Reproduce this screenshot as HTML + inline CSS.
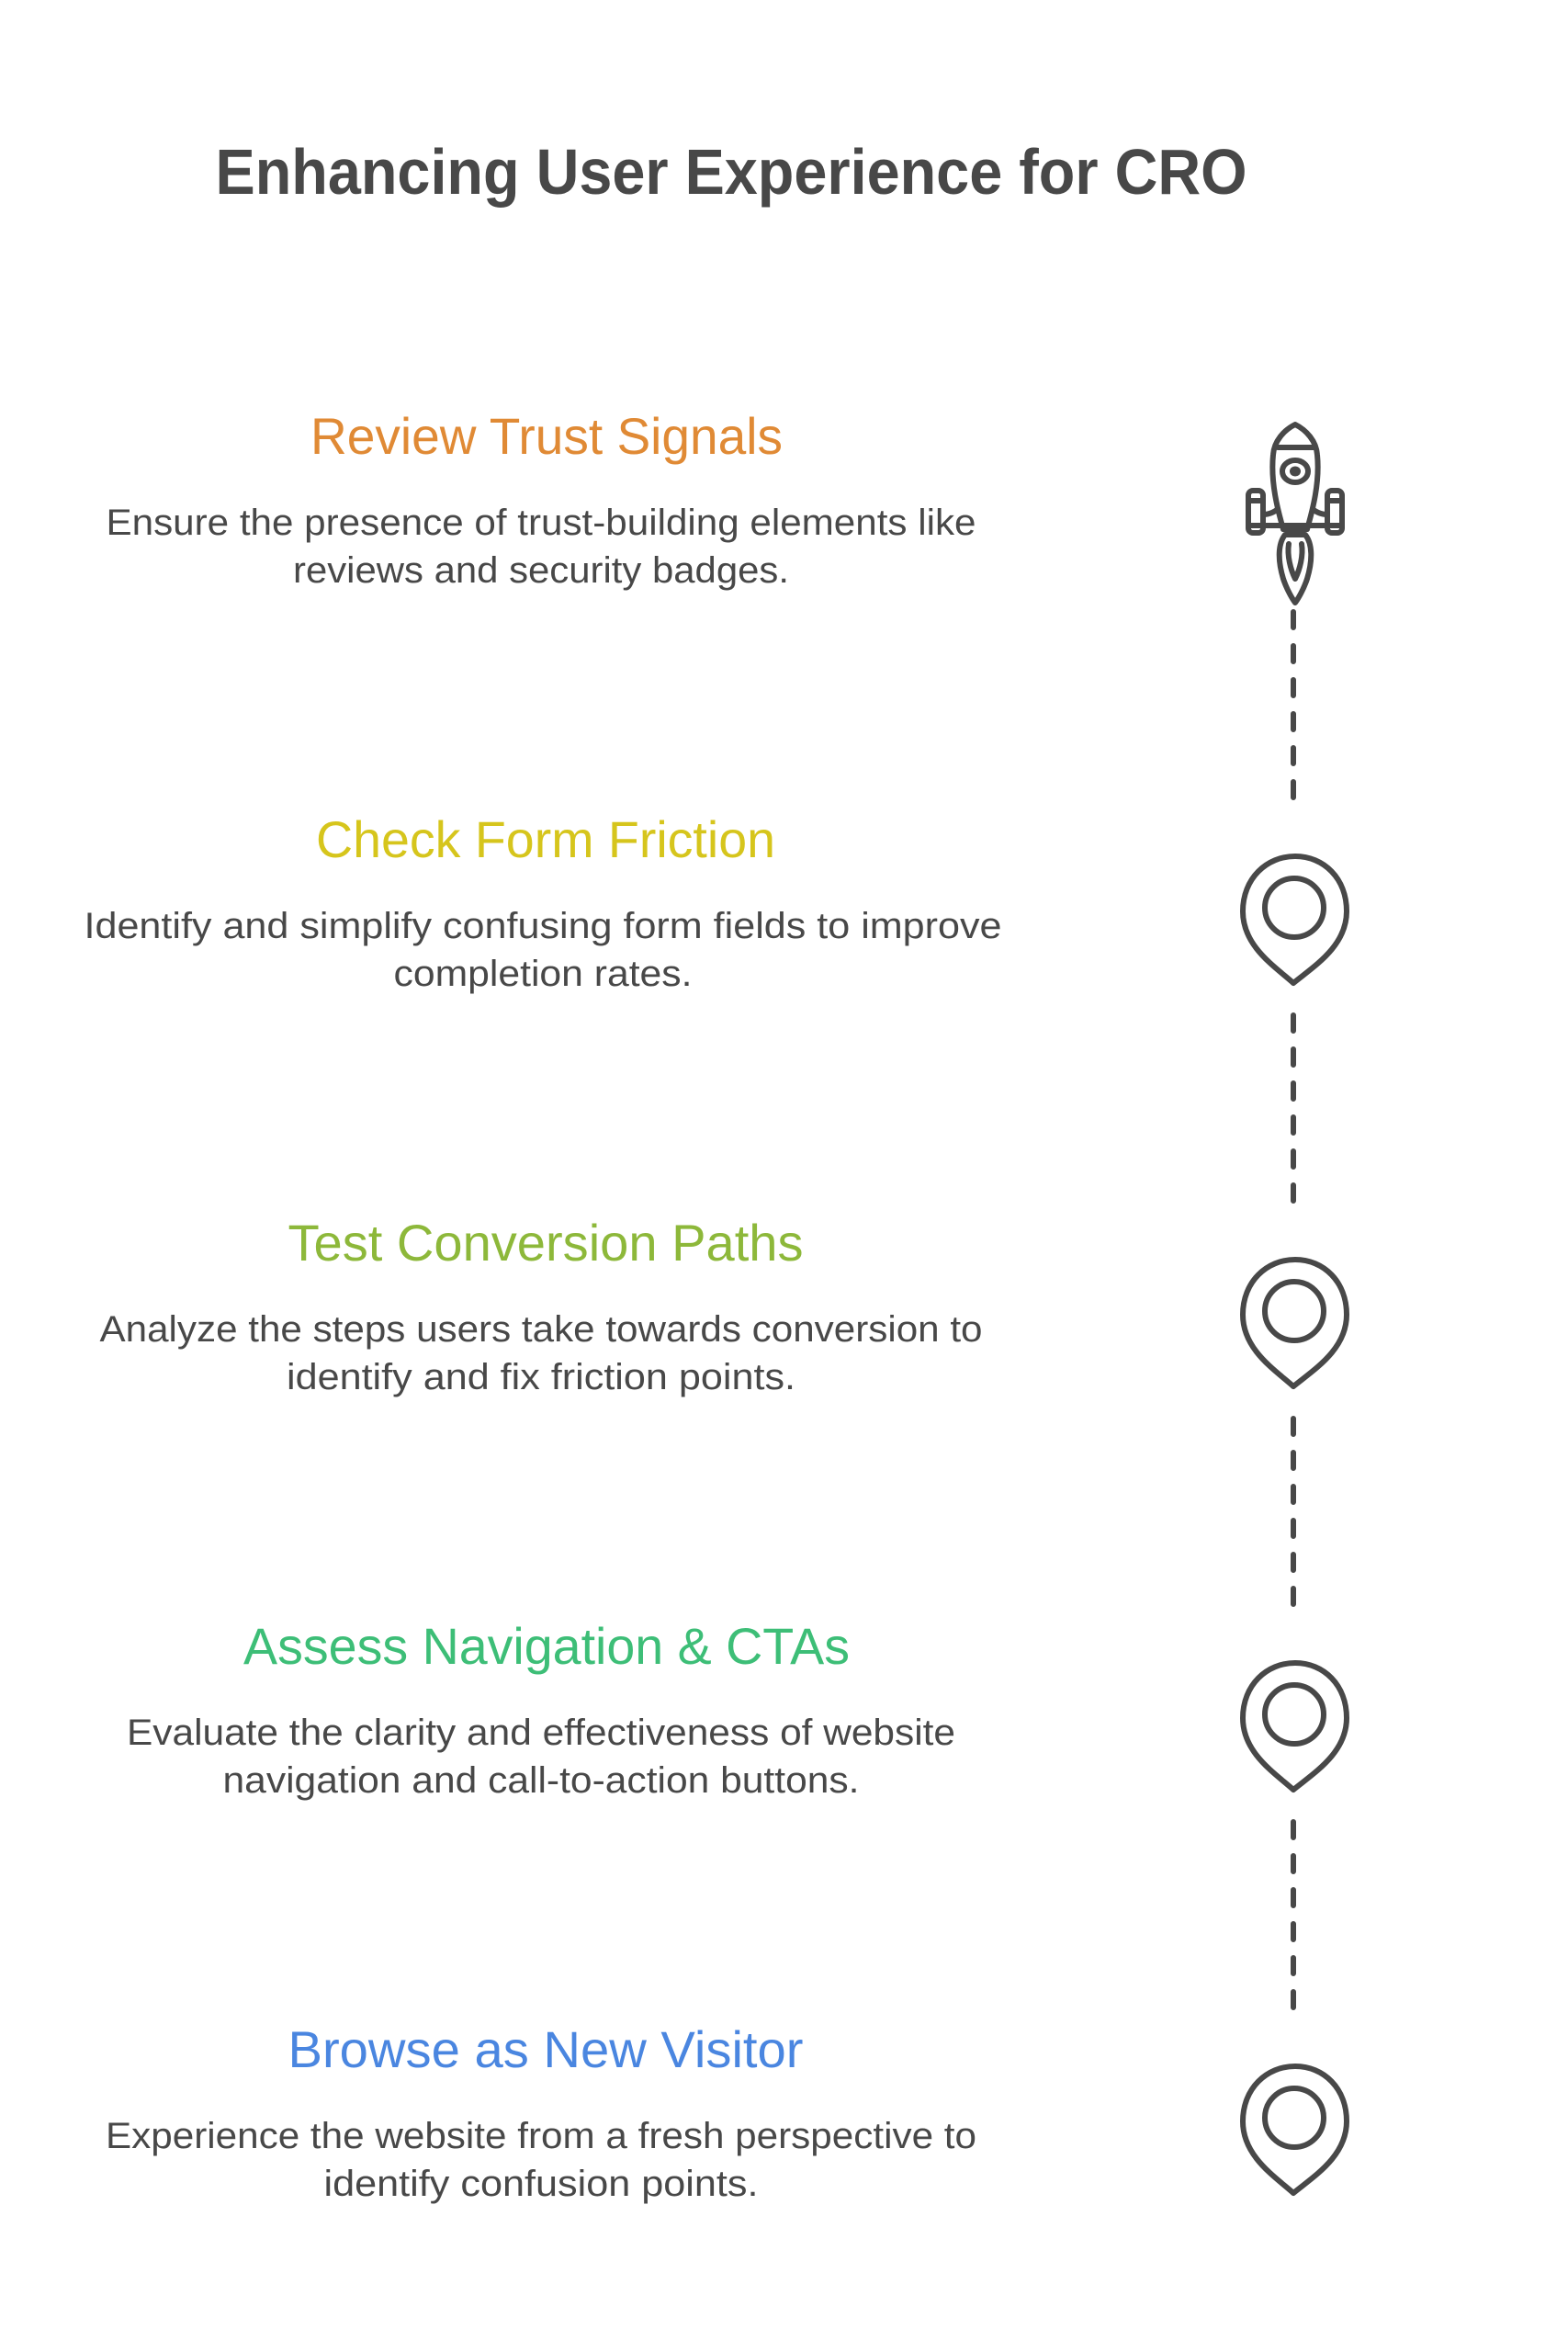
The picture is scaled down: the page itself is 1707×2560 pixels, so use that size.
<!DOCTYPE html>
<html><head><meta charset="utf-8"><style>html,body{margin:0;padding:0;background:#fff}svg{display:block}</style></head><body>
<svg width="1707" height="2560" viewBox="0 0 1707 2560" xmlns="http://www.w3.org/2000/svg" font-family="'Liberation Sans', sans-serif">
<rect width="1707" height="2560" fill="#fff"/>
<g transform="translate(3,0)">
<text x="793" y="211" font-size="70" font-weight="bold" fill="#484848" text-anchor="middle" textLength="1123" lengthAdjust="spacingAndGlyphs">Enhancing User Experience for CRO</text>

<g text-anchor="middle">
<text x="592" y="494" font-size="56" fill="#E08A35" textLength="514" lengthAdjust="spacingAndGlyphs">Review Trust Signals</text>
<text x="586" y="582" font-size="40" fill="#484848" textLength="947" lengthAdjust="spacingAndGlyphs">Ensure the presence of trust-building elements like</text>
<text x="586" y="634" font-size="40" fill="#484848" textLength="540" lengthAdjust="spacingAndGlyphs">reviews and security badges.</text>

<text x="591" y="933" font-size="56" fill="#D6C51C" textLength="500" lengthAdjust="spacingAndGlyphs">Check Form Friction</text>
<text x="588" y="1021" font-size="40" fill="#484848" textLength="999" lengthAdjust="spacingAndGlyphs">Identify and simplify confusing form fields to improve</text>
<text x="588" y="1073" font-size="40" fill="#484848" textLength="325" lengthAdjust="spacingAndGlyphs">completion rates.</text>

<text x="591" y="1372" font-size="56" fill="#8DB83A" textLength="561" lengthAdjust="spacingAndGlyphs">Test Conversion Paths</text>
<text x="586" y="1460" font-size="40" fill="#484848" textLength="961" lengthAdjust="spacingAndGlyphs">Analyze the steps users take towards conversion to</text>
<text x="586" y="1512" font-size="40" fill="#484848" textLength="554" lengthAdjust="spacingAndGlyphs">identify and fix friction points.</text>

<text x="592" y="1811" font-size="56" fill="#3DBE77" textLength="660" lengthAdjust="spacingAndGlyphs">Assess Navigation &amp; CTAs</text>
<text x="586" y="1899" font-size="40" fill="#484848" textLength="902" lengthAdjust="spacingAndGlyphs">Evaluate the clarity and effectiveness of website</text>
<text x="586" y="1951" font-size="40" fill="#484848" textLength="693" lengthAdjust="spacingAndGlyphs">navigation and call-to-action buttons.</text>

<text x="591" y="2250" font-size="56" fill="#4A86E0" textLength="561" lengthAdjust="spacingAndGlyphs">Browse as New Visitor</text>
<text x="586" y="2338" font-size="40" fill="#484848" textLength="948" lengthAdjust="spacingAndGlyphs">Experience the website from a fresh perspective to</text>
<text x="586" y="2390" font-size="40" fill="#484848" textLength="473" lengthAdjust="spacingAndGlyphs">identify confusion points.</text>
</g>

<g stroke="#484848" stroke-width="6" fill="none" stroke-linecap="round" stroke-linejoin="round">
<line x1="1405" y1="666" x2="1405" y2="880" stroke-dasharray="17 20"/>
<line x1="1405" y1="1105" x2="1405" y2="1319" stroke-dasharray="17 20"/>
<line x1="1405" y1="1544" x2="1405" y2="1758" stroke-dasharray="17 20"/>
<line x1="1405" y1="1983" x2="1405" y2="2197" stroke-dasharray="17 20"/>

<path d="M1407 462 C1395 468 1384 480 1383 495 C1380 525 1388 555 1394 576 L1420 576 C1426 555 1434 525 1431 495 C1430 480 1419 468 1407 462 Z"/>
<line x1="1388" y1="487" x2="1427" y2="487"/>
<ellipse cx="1407" cy="513" rx="14" ry="12"/>
<ellipse cx="1407" cy="513" rx="3" ry="2.5"/>
<rect x="1356" y="534" width="16" height="46" rx="5"/>
<rect x="1442" y="534" width="16" height="46" rx="5"/>
<line x1="1358" y1="545" x2="1370" y2="545"/>
<line x1="1444" y1="545" x2="1456" y2="545"/>
<line x1="1358" y1="572" x2="1456" y2="572"/>
<path d="M1372 560 C1380 560 1386 556 1388 554 M1442 560 C1434 560 1428 556 1426 554"/>
<path d="M1396 582 L1418 582 C1426 592 1426 610 1420 630 C1416 642 1410 652 1407 656 C1404 652 1398 642 1394 630 C1388 610 1388 592 1396 582 Z"/>
<path d="M1400 592 C1398 605 1402 620 1407 630 C1412 620 1416 605 1414 592"/>

<g id="pin">
<path d="M1405 1070 C1385 1052 1350 1030 1350 992 C1350 956 1376 932 1407 932 C1438 932 1463 956 1463 992 C1463 1030 1427 1052 1405 1070 Z"/>
<circle cx="1406" cy="988" r="32"/>
</g>
<use href="#pin" y="439"/>
<use href="#pin" y="878"/>
<use href="#pin" y="1317"/>
</g>
</g>
</svg>
</body></html>
